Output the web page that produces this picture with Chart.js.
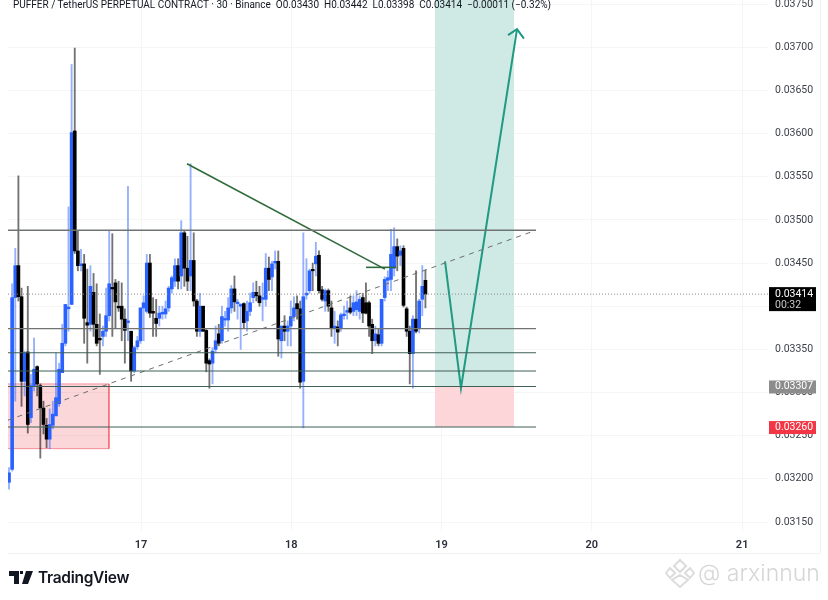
<!DOCTYPE html>
<html>
<head>
<meta charset="utf-8">
<title>PUFFER / TetherUS</title>
<script src="https://cdn.jsdelivr.net/npm/chart.js@4"></script>
<style>
  html, body { margin: 0; padding: 0; background: #fff; }
  #wrap { position: relative; width: 828px; height: 600px; overflow: hidden; font-family: Roboto, sans-serif; }
  canvas { position: absolute; left: 0; top: 0; }
  #legend { position: absolute; left: 13px; top: -1px; font-size: 10px; line-height: 11px; color: #131722; white-space: pre; }
  #logo { position: absolute; left: 9px; top: 568px; display: flex; align-items: center; color: #131722; font-family: Inter, sans-serif; }
  #logo span { font-size: 15.5px; font-weight: 600; margin-left: 5px; letter-spacing: -0.3px; }
  #mark { position: absolute; left: 665px; top: 558px; display: flex; align-items: center; color: #d6d6d6; font-family: Inter, sans-serif; }
  #mark span { font-size: 23px; font-weight: 300; margin-left: 3px; }
</style>
</head>
<body>
<div id="wrap">
  <canvas id="chart" width="828" height="600"></canvas>
  <div id="legend">PUFFER / TetherUS PERPETUAL CONTRACT · 30 · Binance  O0.03430  H0.03442  L0.03398  C0.03414  −0.00011 (−0.32%)</div>
  <div id="logo">
    <svg width="24" height="13" viewBox="0 0 24 13"><path fill="#131722" d="M0 0h10v13H5V5H0zM11 0h3v3h-3zM17 0h7l-5 13h-6z"/></svg>
    <span>TradingView</span>
  </div>
  <div id="mark">
    <svg width="30" height="30" viewBox="0 0 30 30" fill="none" stroke="#dcdcdc" stroke-width="2"><path d="M15 2l6 6-6 6-6-6zM5 10l5 5-5 5-4-5zM25 10l4 5-4 5-5-5zM15 17l8 5-8 7-8-7z"/></svg>
    <span>@ arxinnun</span>
  </div>
</div>
<script>
document.addEventListener('DOMContentLoaded', () => {

    // ========== DATA ==========
    const yTicks = [0.0315, 0.032, 0.0325, 0.033, 0.0335, 0.034, 0.0345, 0.035, 0.0355, 0.036, 0.0365, 0.037, 0.0375];
    const dayTicks = [17, 18, 19, 20, 21];

    const opens = [0.03196,0.03211,0.03410,0.03447,0.03411,0.03313,0.03347,0.03271,0.03308,0.03330,0.03308,0.03282,0.03262,0.03246,0.03262,0.03273,0.03287,0.03323,0.03357,0.03397,
        0.03402,0.03603,0.03464,0.03447,0.03449,0.03381,0.03379,0.03416,0.03379,0.03362,0.03365,0.03371,0.03389,0.03421,0.03427,0.03400,0.03400,0.03385,0.03381,0.03371,
        0.03325,0.03353,0.03360,0.03398,0.03394,0.03450,0.03394,0.03386,0.03386,0.03391,0.03391,0.03398,0.03420,0.03429,0.03447,0.03435,0.03485,0.03444,0.03435,0.03453,
        0.03406,0.03371,0.03400,0.03372,0.03337,0.03334,0.03350,0.03368,0.03360,0.03384,0.03384,0.03398,0.03420,0.03403,0.03400,0.03403,0.03383,0.03394,0.03410,0.03416,
        0.03412,0.03408,0.03408,0.03444,0.03434,0.03450,0.03452,0.03360,0.03377,0.03371,0.03377,0.03388,0.03403,0.03397,0.03313,0.03413,0.03418,0.03442,0.03449,0.03459,
        0.03419,0.03406,0.03418,0.03398,0.03374,0.03376,0.03374,0.03389,0.03393,0.03398,0.03394,0.03396,0.03394,0.03410,0.03404,0.03404,0.03379,0.03360,0.03367,0.03357,
        0.03410,0.03430,0.03431,0.03444,0.03469,0.03459,0.03467,0.03397,0.03371,0.03345,0.03385,0.03375,0.03408,0.03430];
    const highs = [0.03213,0.03426,0.03467,0.03551,0.03421,0.03348,0.03423,0.03321,0.03363,0.03331,0.03310,0.03290,0.03270,0.03281,0.03290,0.03346,0.03334,0.03379,0.03402,0.03515,
        0.03680,0.03699,0.03487,0.03466,0.03460,0.03443,0.03447,0.03438,0.03426,0.03391,0.03377,0.03421,0.03487,0.03484,0.03431,0.03429,0.03427,0.03397,0.03539,0.03371,
        0.03354,0.03365,0.03398,0.03412,0.03460,0.03460,0.03410,0.03408,0.03400,0.03400,0.03406,0.03423,0.03435,0.03455,0.03455,0.03499,0.03488,0.03481,0.03565,0.03485,
        0.03408,0.03415,0.03400,0.03373,0.03339,0.03352,0.03377,0.03379,0.03400,0.03394,0.03410,0.03424,0.03435,0.03408,0.03403,0.03404,0.03406,0.03415,0.03427,0.03429,
        0.03423,0.03427,0.03461,0.03457,0.03452,0.03464,0.03464,0.03377,0.03389,0.03383,0.03406,0.03411,0.03412,0.03406,0.03485,0.03455,0.03443,0.03450,0.03474,0.03464,
        0.03423,0.03420,0.03420,0.03406,0.03394,0.03383,0.03392,0.03400,0.03406,0.03412,0.03412,0.03418,0.03412,0.03415,0.03427,0.03406,0.03385,0.03377,0.03374,0.03408,
        0.03434,0.03441,0.03489,0.03491,0.03478,0.03470,0.03470,0.03399,0.03377,0.03389,0.03441,0.03408,0.03447,0.03442];
    const lows = [0.03188,0.03209,0.03290,0.03406,0.03284,0.03296,0.03253,0.03265,0.03302,0.03296,0.03224,0.03252,0.03236,0.03235,0.03258,0.03273,0.03284,0.03323,0.03354,0.03371,
        0.03402,0.03461,0.03441,0.03441,0.03357,0.03334,0.03371,0.03365,0.03354,0.03321,0.03354,0.03365,0.03383,0.03365,0.03375,0.03394,0.03360,0.03334,0.03360,0.03313,
        0.03323,0.03350,0.03357,0.03360,0.03392,0.03387,0.03365,0.03365,0.03377,0.03385,0.03386,0.03394,0.03415,0.03423,0.03420,0.03420,0.03423,0.03418,0.03418,0.03400,
        0.03365,0.03365,0.03371,0.03324,0.03305,0.03310,0.03346,0.03354,0.03357,0.03377,0.03371,0.03392,0.03394,0.03385,0.03350,0.03374,0.03371,0.03389,0.03404,0.03406,
        0.03400,0.03383,0.03400,0.03418,0.03418,0.03443,0.03342,0.03340,0.03360,0.03354,0.03354,0.03383,0.03385,0.03305,0.03259,0.03408,0.03415,0.03418,0.03435,0.03415,
        0.03406,0.03394,0.03394,0.03365,0.03357,0.03354,0.03371,0.03385,0.03385,0.03391,0.03389,0.03389,0.03385,0.03381,0.03391,0.03365,0.03345,0.03354,0.03354,0.03354,
        0.03406,0.03418,0.03418,0.03435,0.03441,0.03447,0.03399,0.03365,0.03310,0.03305,0.03369,0.03369,0.03389,0.03398];
    const closes = [0.03207,0.03410,0.03447,0.03411,0.03313,0.03346,0.03263,0.03308,0.03327,0.03310,0.03282,0.03263,0.03246,0.03263,0.03275,0.03294,0.03327,0.03357,0.03402,0.03399,
        0.03601,0.03464,0.03447,0.03449,0.03386,0.03378,0.03423,0.03379,0.03357,0.03361,0.03371,0.03389,0.03426,0.03420,0.03405,0.03398,0.03385,0.03372,0.03383,0.03325,
        0.03352,0.03360,0.03398,0.03404,0.03450,0.03392,0.03392,0.03380,0.03392,0.03393,0.03397,0.03421,0.03433,0.03447,0.03429,0.03485,0.03444,0.03429,0.03453,0.03406,
        0.03371,0.03400,0.03371,0.03334,0.03333,0.03348,0.03360,0.03357,0.03388,0.03385,0.03398,0.03420,0.03405,0.03404,0.03402,0.03381,0.03394,0.03404,0.03416,0.03412,
        0.03404,0.03410,0.03444,0.03431,0.03449,0.03452,0.03362,0.03377,0.03371,0.03377,0.03388,0.03398,0.03397,0.03312,0.03411,0.03415,0.03441,0.03441,0.03458,0.03418,
        0.03408,0.03418,0.03400,0.03374,0.03377,0.03370,0.03390,0.03391,0.03395,0.03393,0.03404,0.03405,0.03408,0.03392,0.03392,0.03377,0.03360,0.03368,0.03357,0.03408,
        0.03431,0.03433,0.03460,0.03469,0.03458,0.03464,0.03401,0.03371,0.03345,0.03385,0.03371,0.03406,0.03423,0.03414];

    const firstBarDay = 16.1217;
    const barsPerDay = 48;

    // drawings, [day, price]
    const levels = [0.03488, 0.03374, 0.03346, 0.03325, 0.03307, 0.0326];
    const levelEndDay = 19.628;
    const lastPrice = 0.03414;
    const stopPrice = 0.03307;
    const targetPrice = 0.0326;
    const dashedLine = [[16.115, 0.03268], [19.628, 0.03488]];
    const downLine = [[17.306, 0.03565], [18.623, 0.03443]];
    const shortLine = [[18.497, 0.03445], [18.697, 0.03445]];
    const arrowLine = [[19.023, 0.03452], [19.129, 0.03305], [19.502, 0.03721]];
    const arrowHead = [[19.442, 0.03714], [19.502, 0.03721], [19.548, 0.03710]];
    const greenBox = { days: [18.956, 19.482], top: 0.0380, bottom: 0.03307 };
    const redBox = { days: [18.956, 19.482], top: 0.03307, bottom: 0.0326 };
    const leftBox = { days: [16.115, 16.787], top: 0.03310, bottom: 0.03235 };

    // ========== DATASETS ==========
    const barDay = i => firstBarDay + i / barsPerDay;
    const isUp = i => closes[i] >= opens[i];
    const pts = arr => arr.map(p => ({ x: p[0], y: p[1] }));

    const wicks = {
        type: 'bar', order: 3, grouped: false, barThickness: 1.2,
        data: highs.map((h, i) => ({ x: barDay(i), y: [lows[i], h] })),
        backgroundColor: highs.map((h, i) => isUp(i) ? 'rgba(41,98,255,0.5)' : 'rgba(0,0,0,0.55)')
    };
    const bodies = {
        type: 'bar', order: 2, grouped: false, barThickness: 3, minBarLength: 1.5,
        data: opens.map((o, i) => ({ x: barDay(i), y: [o, closes[i]] })),
        backgroundColor: opens.map((o, i) => isUp(i) ? '#2962ff' : '#000000')
    };
    const line = (data, color, width, extra) => Object.assign({
        type: 'line', order: 1, data: pts(data), borderColor: color, borderWidth: width,
        pointRadius: 0, tension: 0, fill: false
    }, extra || {});
    const box = (b, fill, border) => ({
        type: 'line', order: 5,
        data: b.days.map(d => ({ x: d, y: b.top })),
        borderColor: border, borderWidth: border === 'transparent' ? 0 : 1,
        backgroundColor: fill, pointRadius: 0, tension: 0,
        fill: { value: b.bottom }
    });
    const boxBottom = b => line(b.days.map(d => [d, b.bottom]), 'rgba(242,54,69,0.5)', 1, { order: 4 });
    const boxSide = (b, i) => line([[b.days[i], b.top], [b.days[i], b.bottom]], 'rgba(242,54,69,0.5)', 1, { order: 4 });

    const levelSets = levels.map((v, i) => line([[16.115, v], [levelEndDay, v]],
        i === 0 || i === 1 ? '#6f7472' : '#3f5f57', i === 0 ? 1.3 : 1.1));

    const datasets = [
        box(greenBox, '#cfe9e4', 'transparent'),
        box(redBox, '#fcd6d9', 'transparent'),
        box(leftBox, 'rgba(242,54,69,0.2)', 'rgba(242,54,69,0.5)'),
        boxBottom(leftBox), boxSide(leftBox, 1),
        wicks, bodies,
        ...levelSets,
        line([[16.115, lastPrice], [21.172, lastPrice]], '#8a8a8a', 1, { borderDash: [1, 2] }),
        line(dashedLine, '#6a6f6d', 1, { borderDash: [5, 5] }),
        line(downLine, '#2f6a3a', 1.6),
        line(shortLine, '#2f6a3a', 1.6),
        line(arrowLine, '#1f9a83', 2),
        line(arrowHead, '#1f9a83', 2)
    ];

    // ========== PRICE TAGS ==========
    const fmt = v => v.toFixed(5);
    const priceTags = {
        id: 'priceTags',
        afterDraw(chart) {
            const ctx = chart.ctx, y = chart.scales.y;
            const tag = (value, bg, h, top) => {
                const py = y.getPixelForValue(value);
                ctx.fillStyle = bg;
                ctx.fillRect(769, py - top, 47, h);
                return py;
            };
            ctx.save();
            ctx.textAlign = 'left';
            ctx.textBaseline = 'middle';
            ctx.font = '10.5px Roboto, sans-serif';
            let py = tag(lastPrice, '#000000', 24, 7);
            ctx.fillStyle = '#fff';
            ctx.fillText(fmt(lastPrice), 775, py);
            ctx.fillStyle = '#c9c9c9';
            ctx.fillText('00:32', 775, py + 11);
            py = tag(stopPrice, '#8c8c8c', 13, 6);
            ctx.fillStyle = '#fff';
            ctx.fillText(fmt(stopPrice), 775, py);
            py = tag(targetPrice, '#f23645', 13, 6);
            ctx.fillStyle = '#fff';
            ctx.fillText(fmt(targetPrice), 775, py);
            // frame under the time axis
            ctx.strokeStyle = '#f0f0f0';
            ctx.beginPath();
            ctx.moveTo(8, 553.5);
            ctx.lineTo(820, 553.5);
            ctx.moveTo(820.5, 0);
            ctx.lineTo(820.5, 553);
            ctx.stroke();
            ctx.restore();
        }
    };

    // ========== CHART ==========
    const noAxisPadding = s => { s.paddingTop = 0; s.paddingBottom = 0; s.paddingLeft = 0; s.paddingRight = 0; };

    new Chart(document.getElementById('chart').getContext('2d'), {
        data: { datasets },
        plugins: [priceTags],
        options: {
            responsive: false,
            animation: false,
            devicePixelRatio: 1,
            layout: { padding: { left: 8, right: 0, top: 0, bottom: 47 } },
            plugins: { legend: { display: false }, tooltip: { enabled: false } },
            scales: {
                x: {
                    type: 'linear', offset: false, min: 16.115, max: 21.172,
                    afterBuildTicks: s => { s.ticks = dayTicks.map(v => ({ value: v })); },
                    afterFit: s => { s.height = 22; noAxisPadding(s); },
                    grid: { offset: false, color: '#f5f5f5', drawTicks: false },
                    border: { display: false },
                    ticks: {
                        maxRotation: 0, padding: 8, color: '#2a2e39',
                        font: { family: 'Roboto, sans-serif', size: 11, weight: '600' },
                        callback: v => String(v)
                    }
                },
                y: {
                    position: 'right', min: 0.031396, max: 0.037547,
                    afterBuildTicks: s => { s.ticks = yTicks.map(v => ({ value: v })); },
                    afterFit: s => { s.width = 60; noAxisPadding(s); },
                    grid: { color: '#f5f5f5', drawTicks: false },
                    border: { display: false },
                    ticks: {
                        padding: 7, color: '#3b3f48',
                        font: { family: 'Roboto, sans-serif', size: 10.5 },
                        callback: v => v.toFixed(5)
                    }
                }
            }
        }
    });
});
</script>
</body>
</html>
